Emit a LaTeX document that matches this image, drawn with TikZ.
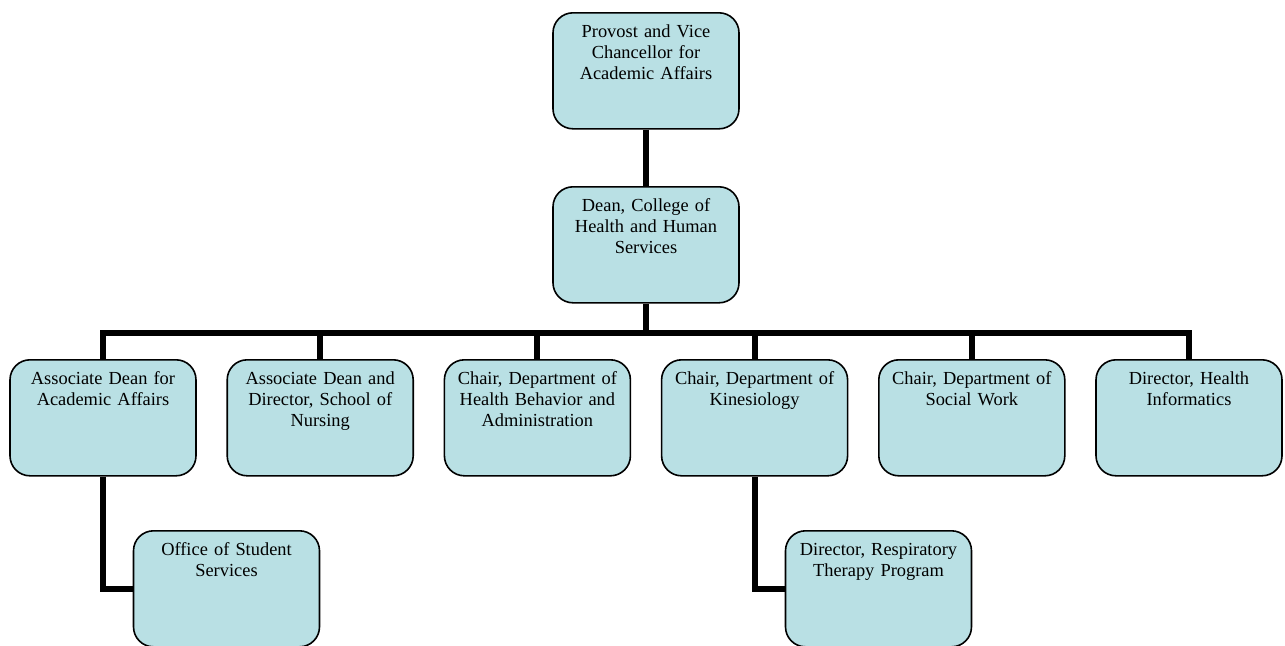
\documentclass[tikz,border=0pt]{standalone}
\usepackage{fontspec}
\setmainfont{Liberation Serif}
\usetikzlibrary{calc}
\definecolor{boxfill}{RGB}{185,224,228}

\begin{document}
\begin{tikzpicture}[x=0.5pt, y=-0.5pt,
		unitbox/.style={draw=black, line width=0.8pt, fill=boxfill, rounded corners=10pt,
			anchor=north, inner sep=0pt, align=center, text width=86pt, minimum width=93pt,
			text height=12.5pt, text depth=45.5pt, font=\fontsize{9.2}{10.5}\selectfont},
		link/.style={line width=3pt, line join=miter}]
			%%%%% START %%%%%
			
			\useasboundingbox (0, 0) rectangle (1285, 645);
			
			\node[unitbox] (provost) at (646, 12) {Provost and Vice\\Chancellor for\\Academic Affairs};
			\node[unitbox] (dean) at (646, 186) {Dean, College of\\Health and Human\\Services};
			
			\node[unitbox] (assocacad) at (103, 359) {Associate Dean for\\Academic Affairs};
			\node[unitbox] (nursing) at (320.2, 359) {Associate Dean and\\Director, School of\\Nursing};
			\node[unitbox] (hba) at (537.4, 359) {Chair, Department of\\Health Behavior and\\Administration};
			\node[unitbox] (kines) at (754.6, 359) {Chair, Department of\\Kinesiology};
			\node[unitbox] (social) at (971.8, 359) {Chair, Department of\\Social Work};
			\node[unitbox] (informatics) at (1189, 359) {Director, Health\\Informatics};
			
			\node[unitbox] (students) at (226.5, 530) {Office of Student\\Services};
			\node[unitbox] (respir) at (878.5, 530) {Director, Respiratory\\Therapy Program};
			
			\coordinate (hub) at (646, 333);
			
			\draw[link] (provost.south) -- (dean.north);
			\draw[link] (dean.south) -- (hub);
			\foreach \unit in {assocacad, nursing, hba, kines, social, informatics}
				\draw[link] (hub) -| (\unit.north);
			
			\draw[link] (assocacad.south) |- (students.west);
			\draw[link] (kines.south) |- (respir.west);
			
			%%%%% END %%%%%
		\end{tikzpicture}
\end{document}
